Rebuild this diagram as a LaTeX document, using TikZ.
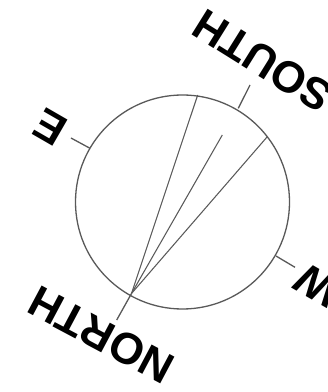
\documentclass[tikz,border=0pt]{standalone}
\usepackage{fontspec}
\setmainfont{Liberation Sans}
\begin{document}
\begin{tikzpicture}[x=1bp,y=1bp,
  ring/.style={draw=black!65, line width=1.3bp},
  ray/.style={draw=black!65, line width=1.05bp},
  tick/.style={draw=black!65, line width=1.3bp},
  lbl/.style={inner sep=0pt, font=\fontsize{44bp}{44bp}\selectfont\bfseries, text=black}]
\useasboundingbox[fill=white] (0,0) rectangle (328,392);
% circle
\coordinate (O) at (182.5,190);
\node[ring, circle, minimum size=214bp, inner sep=0pt] (ring) at (O) {};
% convergence point and chord ends
\coordinate (P) at (131.5,98.5);
\coordinate (A) at (197.7,297);
\coordinate (B) at (222.3,257);
\coordinate (C) at (267.3,255.3);
\draw[ray] (P) -- (A);
\draw[ray] (P) -- (B);
\draw[ray] (P) -- (C);
% ticks
\coordinate (Nt) at (116.7,72);
\coordinate (Ss) at (238.3,283.7);
\coordinate (St) at (250,307);
\coordinate (Es) at (90,243.7);
\coordinate (Et) at (71,254);
\coordinate (Ws) at (276,136);
\coordinate (Wt) at (295,124.7);
\draw[tick] (P) -- (Nt);
\draw[tick] (Ss) -- (St);
\draw[tick] (Es) -- (Et);
\draw[tick] (Ws) -- (Wt);
% labels
\node[lbl, rotate=152] (north) at (101,57) {NORTH};
\node[lbl, rotate=148] (south) at (263,331) {SOUTH};
\node[lbl, rotate=150] (east) at (50,265) {E};
\node[lbl, rotate=150] (west) at (317,107) {W};
\end{tikzpicture}
\end{document}
